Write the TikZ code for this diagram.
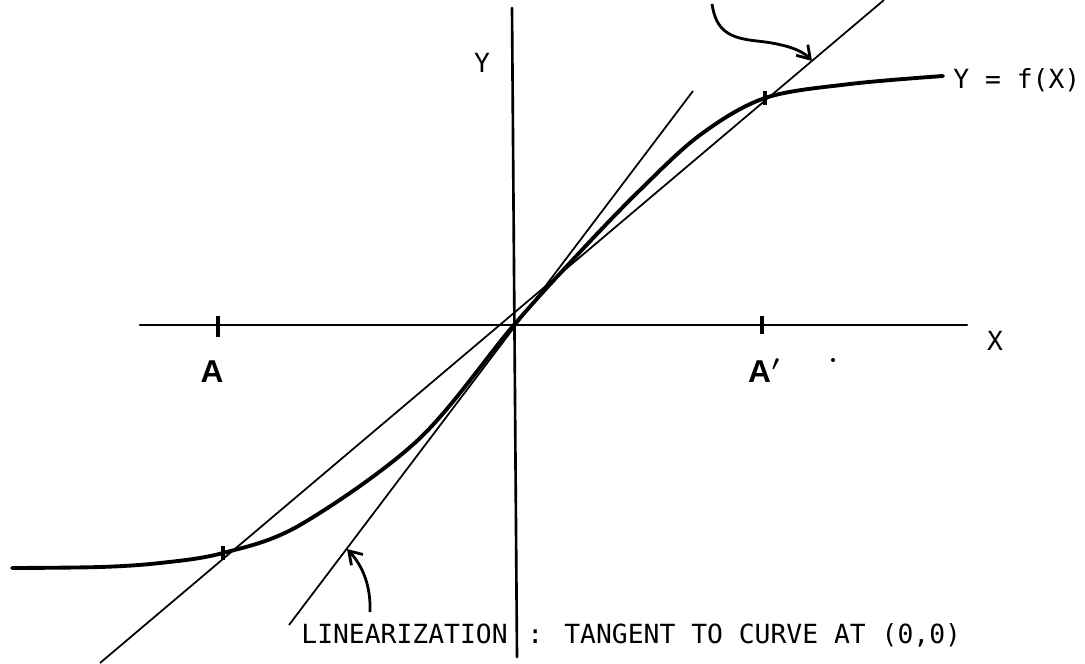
\documentclass[tikz,border=0pt]{standalone}
\usepackage{fontspec}
\newfontfamily\typefont{DejaVu Sans Mono}
\newfontfamily\handfont{Liberation Sans}
\usetikzlibrary{arrows.meta, positioning}
\tikzset{
    axisline/.style={line width=1.5pt, line cap=round},
    thinline/.style={line width=1.0pt},
    curveline/.style={line width=2.2pt, line cap=round},
    tickmark/.style={line width=1.8pt},
    typelabel/.style={font=\typefont\fontsize{15}{17}\selectfont, inner sep=0pt},
    handlabel/.style={font=\handfont\bfseries\fontsize{18}{20}\selectfont, inner sep=0pt},
    pointer/.style={line width=1.6pt, -{Straight Barb[length=7pt, width=9pt]}},
}
\begin{document}
\begin{tikzpicture}[x=0.02cm, y=-0.02cm]
\useasboundingbox (0,0) rectangle (1085,663);
% Assi
\coordinate (xl) at (140,325);
\coordinate (xr) at (967,325);
\coordinate (yt) at (512,8);
\coordinate (yb) at (517,657);
\draw[axisline] (xl) -- (xr);
\draw[axisline] (yt) -- (yb);
\node[typelabel, anchor=base] (xlab) at (995,350) {X};
\node[typelabel, anchor=base] (ylab) at (482,72) {Y};

% Tacche sull'asse X
\draw[tickmark] (218,316) -- (218,337);
\draw[tickmark] (762,316) -- (762,334);
\node[handlabel, anchor=base] (alab) at (212,382) {A};
\node[handlabel, anchor=base] (aplab) at (764,382) {A\kern0.5pt{\boldmath$'$}};
\fill (833,360) circle (2);

% Curva Y = f(X)
\draw[curveline] plot[smooth, tension=0.55] coordinates {(12,568) (100,567) (160,563) (223,553) (300,525) (418,440) (513,326) (580,252) (640,190) (700,135) (765,98) (850,84) (943,76)};
\draw[tickmark] (223,546) -- (223,560);
\draw[tickmark] (765,91) -- (765,105);
\node[typelabel, anchor=base west] (flab) at (953,88) {Y = f(X)};

% Secante per A e A'
\coordinate (sa) at (100,663);
\coordinate (sb) at (884,0);
\draw[thinline] (sa) -- (sb);

% Tangente in (0,0)
\coordinate (ta) at (289,625);
\coordinate (tb) at (693,91);
\draw[thinline] (ta) -- (tb);

% Frecce
\coordinate (topstart) at (712,4);
\coordinate (toptip) at (812,61);
\draw[pointer] (topstart) .. controls (716,30) and (728,38) .. (757,41) .. controls (785,44) and (802,50) .. (toptip);
\coordinate (linstart) at (370,612);
\coordinate (lintip) at (347,549);
\draw[pointer] (linstart) .. controls (371,585) and (362,565) .. (lintip);

% Didascalia
\node[typelabel, anchor=base east] (lin) at (508,643) {LINEARIZATION};
\node[typelabel, anchor=base west] (tan) at (527,643) {: TANGENT TO CURVE AT (0,0)};
\end{tikzpicture}
\end{document}
